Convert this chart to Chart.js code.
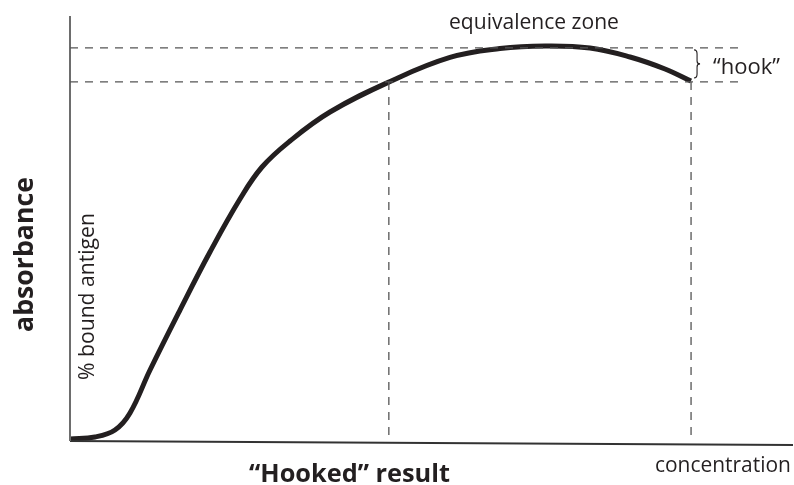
<!DOCTYPE html>
<html>
<head>
<meta charset="utf-8">
<script src="https://cdn.jsdelivr.net/npm/chart.js@4/dist/chart.umd.min.js"></script>
<style>
  body { margin: 0; background: #fff; }
  #wrap { width: 794px; height: 485px; }
</style>
</head>
<body>
<div id="wrap"><canvas id="hookChart" width="794" height="485"></canvas></div>
<script>
// dose-response curve (arbitrary units, 0-100 on both axes)
const concentration = [0, 3.46, 6.22, 8.30, 11.07, 15.21, 19.36, 23.51, 26.56, 30.43, 35.96,
  44.12, 52.56, 59.47, 65.70, 71.92, 77.46, 82.30, 85.89];
const absorbance = [0.47, 0.94, 2.59, 6.59, 16.71, 30.82, 44.47, 56.94, 64.47, 70.59, 77.41,
  84.47, 90.24, 92.33, 92.94, 92.47, 90.35, 87.53, 84.7];

// reference levels
const peakLevel = 92.5;     // top of equivalence zone
const hookLevel = 84.5;     // hooked reading
const hookedX = 44.1;       // low concentration giving the same reading
const highX = 85.9;         // high concentration (hook)
const dashEnd = 93.0;

const TEXT = "#231f20";
const FAMILY = "'Open Sans', 'Noto Sans', sans-serif";

function seg(x1, y1, x2, y2) {
  return [{ x: x1, y: y1 }, { x: x2, y: y2 }];
}

function dashed(data) {
  return {
    data: data,
    borderColor: "#555",
    borderWidth: 1.3,
    borderDash: [8, 7],
    pointRadius: 0,
    fill: false,
    clip: false
  };
}

function fitSize(ctx, text, width, weight) {
  ctx.font = `${weight} 20px ${FAMILY}`;
  return 20 * width / ctx.measureText(text).width;
}

function label(ctx, text, x, y, width, weight, rotate) {
  const size = fitSize(ctx, text, width, weight);
  ctx.save();
  ctx.font = `${weight} ${size}px ${FAMILY}`;
  ctx.fillStyle = TEXT;
  ctx.textBaseline = "alphabetic";
  if (rotate) {
    ctx.translate(x, y);
    ctx.rotate(-Math.PI / 2);
    ctx.textAlign = "center";
    ctx.fillText(text, 0, 0);
  } else {
    ctx.textAlign = "left";
    ctx.fillText(text, x, y);
  }
  ctx.restore();
}

const annotations = {
  id: "annotations",
  afterDraw(chart) {
    const ctx = chart.ctx;
    const xs = chart.scales.x, ys = chart.scales.y;

    label(ctx, "equivalence zone", 449, 29, 170, "normal");
    label(ctx, "\u201chook\u201d", 713, 74, 67, "normal");
    label(ctx, "concentration", 655, 472, 136, "normal");
    label(ctx, "\u201cHooked\u201d result", 249, 482, 201, "bold");
    label(ctx, "absorbance", 33, 254.5, 155, "bold", true);
    label(ctx, "% bound antigen", 94, 296.5, 167, "normal", true);

    // brace between the two reference levels
    const bx = xs.getPixelForValue(highX) + 3;
    const top = ys.getPixelForValue(peakLevel) + 2;
    const bot = ys.getPixelForValue(hookLevel) - 4;
    const mid = (top + bot) / 2;
    ctx.save();
    ctx.strokeStyle = TEXT;
    ctx.lineWidth = 1.1;
    ctx.beginPath();
    ctx.moveTo(bx, top);
    ctx.quadraticCurveTo(bx + 3, top, bx + 3, top + 4);
    ctx.lineTo(bx + 3, mid - 3);
    ctx.quadraticCurveTo(bx + 3, mid, bx + 6, mid);
    ctx.quadraticCurveTo(bx + 3, mid, bx + 3, mid + 3);
    ctx.lineTo(bx + 3, bot - 4);
    ctx.quadraticCurveTo(bx + 3, bot, bx, bot);
    ctx.stroke();
    ctx.restore();
  }
};

new Chart(document.getElementById("hookChart"), {
  type: "line",
  data: {
    datasets: [
      dashed(seg(0, peakLevel, dashEnd, peakLevel)),
      dashed(seg(0, hookLevel, dashEnd, hookLevel)),
      dashed(seg(hookedX, hookLevel, hookedX, 0)),
      dashed(seg(highX, hookLevel, highX, 0)),
      {
        data: seg(0, 0, 0, 100),
        borderColor: "#6d6d6d",
        borderWidth: 2,
        pointRadius: 0,
        clip: false
      },
      {
        data: seg(0, 0, 100, -0.94),
        borderColor: "#333",
        borderWidth: 1.8,
        pointRadius: 0,
        clip: false
      },
      {
        data: concentration.map((c, i) => ({ x: c, y: absorbance[i] })),
        borderColor: "#231f20",
        borderWidth: 5,
        pointRadius: 0,
        tension: 0.4,
        borderCapStyle: "butt",
        fill: false,
        clip: false
      }
    ]
  },
  options: {
    responsive: false,
    animation: false,
    layout: { padding: { left: 70, right: 1, top: 16, bottom: 44 } },
    plugins: { legend: { display: false }, tooltip: { enabled: false } },
    scales: {
      x: { type: "linear", min: 0, max: 100, display: false },
      y: { type: "linear", min: 0, max: 100, display: false }
    }
  },
  plugins: [annotations]
});
</script>
</body>
</html>
